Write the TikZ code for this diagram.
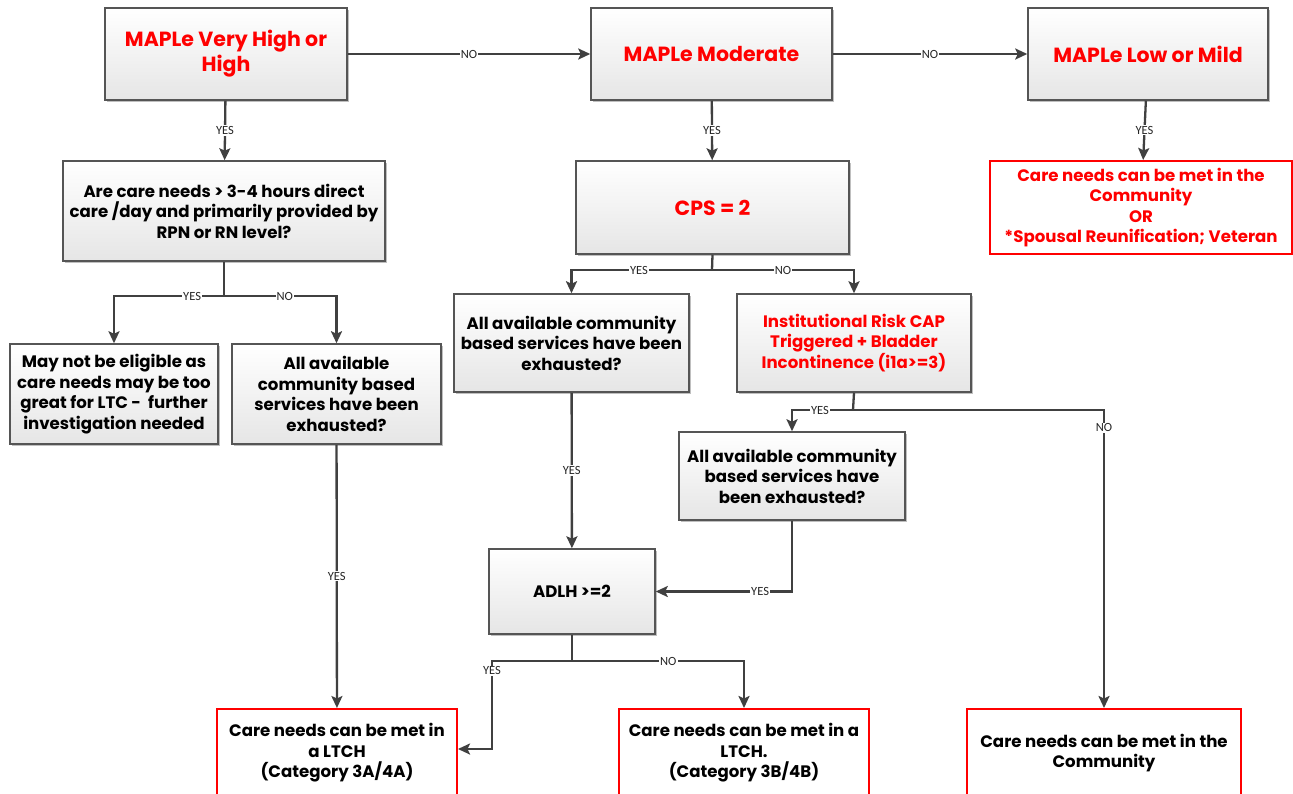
\documentclass[tikz,border=0pt]{standalone}
\usepackage{fontspec}
\setmainfont{Poppins}
\newfontfamily\lblfont{Carlito}
\usetikzlibrary{arrows.meta,shadows}
\definecolor{wire}{HTML}{404040}
\definecolor{frame}{HTML}{555555}
\definecolor{hot}{HTML}{FF0000}
\begin{document}
\begin{tikzpicture}[x=1pt,y=-1pt,
  box/.style={draw=frame, line width=1.5pt, top color=white, bottom color=black!10,
    drop shadow={shadow xshift=2pt, shadow yshift=-2pt, opacity=0.25, fill=black},
    align=center, inner sep=1pt, font=\bfseries\fontsize{16.6}{20.5}\selectfont},
  head/.style={box, text=hot, font=\bfseries\fontsize{20.5}{25}\selectfont},
  endbox/.style={draw=hot, line width=2pt, fill=white, align=center, inner sep=1pt,
    font=\bfseries\fontsize{16.6}{20.5}\selectfont},
  wirel/.style={draw=wire, line width=2.3pt},
  arr/.style={wirel, -{Stealth[length=12pt,width=11pt,inset=2.5pt]}},
  lbl/.style={fill=white, inner sep=1pt, text=black!85, font=\lblfont\fontsize{12.5}{13}\selectfont}]
\useasboundingbox (0,0) rectangle (1293,793);

% decision boxes
\node[head, minimum width=242, minimum height=92] (vh) at (226,54) {MAPLe Very High or\\High};
\node[head, minimum width=241, minimum height=92] (mod) at (711.5,54) {MAPLe Moderate};
\node[head, minimum width=240, minimum height=92] (low) at (1148,54) {MAPLe Low or Mild};
\node[box, minimum width=322, minimum height=100] (hrs) at (224,211)
  {Are care needs > 3-4 hours direct\\care /day and primarily provided by\\RPN or RN level?};
\node[box, text=hot, font=\bfseries\fontsize{20.5}{25}\selectfont, minimum width=273, minimum height=93] (cps) at (712.5,207.5) {CPS = 2};
\node[endbox, text=hot, minimum width=302, minimum height=93] (comA) at (1141,207.5)
  {Care needs can be met in the\\Community\\OR\\*Spousal Reunification; Veteran};
\node[box, minimum width=208, minimum height=100] (inv) at (114,394)
  {May not be eligible as\\care needs may be too\\great for LTC -\ \ further\\investigation needed};
\node[box, minimum width=209, minimum height=100] (exL) at (336.5,394)
  {All available\\community based\\services have been\\exhausted?};
\node[box, minimum width=235, minimum height=98] (exM) at (571.5,343)
  {All available community\\based services have been\\exhausted?};
\node[box, text=hot, minimum width=234, minimum height=98] (risk) at (854,343)
  {Institutional Risk CAP\\Triggered + Bladder\\Incontinence (i1a>=3)};
\node[box, minimum width=226, minimum height=88] (exR) at (792,476)
  {All available community\\based services have\\been exhausted?};
\node[box, minimum width=166, minimum height=85] (adl) at (572,591.5) {ADLH >=2};

% outcome boxes
\node[endbox, minimum width=240, minimum height=88] (ltA) at (337,753)
  {Care needs can be met in\\a LTCH\\(Category 3A/4A)};
\node[endbox, minimum width=250, minimum height=88] (ltB) at (744,753)
  {Care needs can be met in a\\LTCH.\\(Category 3B/4B)};
\node[endbox, minimum width=274, minimum height=88] (comB) at (1104,753)
  {Care needs can be met in the\\Community};

% branch points
\coordinate (jH) at (224,296);
\coordinate (jC) at (712,270);
\coordinate (jR) at (853,410);
\coordinate (jA) at (572,661);
\coordinate (kA) at (492,661);
\coordinate (kB) at (492,749);

% top row
\draw[arr] (vh) -- node[lbl]{NO} (mod);
\draw[arr] (mod) -- node[lbl]{NO} (low);
\draw[arr] (vh) -- node[lbl]{YES} (hrs);
\draw[arr] (mod) -- node[lbl]{YES} (cps);
\draw[arr] (low) -- node[lbl]{YES} (comA);

% left branch
\draw[wirel] (hrs.south) -- (jH);
\draw[arr] (jH) -| node[lbl, pos=0.145]{YES} (inv.north);
\draw[arr] (jH) -| node[lbl, pos=0.27]{NO} (exL.north);
\draw[arr] (exL) -- node[lbl]{YES} (ltA);

% middle branch
\draw[wirel] (cps.south) -- (jC);
\draw[arr] (jC) -| node[lbl, pos=0.26]{YES} (exM.north);
\draw[arr] (jC) -| node[lbl, pos=0.25]{NO} (risk.north);
\draw[arr] (exM) -- node[lbl]{YES} (adl);

% risk branch
\draw[wirel] (risk.south) -- (jR);
\draw[arr] (jR) -| node[lbl, pos=0.27]{YES} (exR.north);
\draw[arr] (jR) -| node[lbl, pos=0.53]{NO} (comB.north);
\draw[arr] (exR.south) |- node[lbl, pos=0.617]{YES} (adl.east);

% ADLH branch
\draw[wirel] (adl.south) -- (jA);
\draw[arr] (jA) -- (kA) -- node[lbl, pos=0.11]{YES} (kB) -- (ltA.east |- kB);
\draw[arr] (jA) -| node[lbl, pos=0.28]{NO} (ltB.north);
\end{tikzpicture}
\end{document}
